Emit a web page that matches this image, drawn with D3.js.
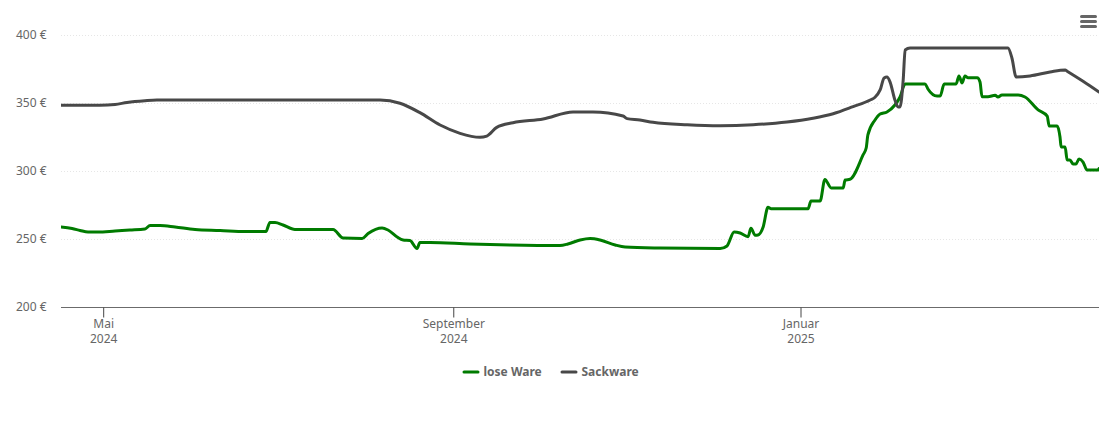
<!DOCTYPE html>
<html><head><meta charset="utf-8">
<script src="https://cdnjs.cloudflare.com/ajax/libs/d3/7.8.5/d3.min.js"></script>
<style>html,body{margin:0;padding:0;background:#fff}svg{display:block}text{font-family:"Noto Sans","Open Sans",sans-serif}</style>
</head><body><svg id="c" width="1110" height="422"></svg>
<script>
// Days since 2024-04-16 and price (EUR)
const loseDays=[0,3.9,6.7,9.5,13,19,24.2,29.5,31.3,34.8,40.1,47.1,55.9,64.7,72,73.4,75.2,78,82.2,95.6,99.1,105.8,107.9,112.8,114.9,118.1,120.2,122.6,125.1,126.1,129.7,143.7,157.8,175.3,178.1,182.4,185.9,189.4,194.7,198.2,210.5,231.6,234,236.5,238.6,241.4,242.4,243.9,244.9,246.7,248.4,249.5,262.5,263.5,266.7,268.4,270.6,274.8,275.5,277.2,281.8,282.9,283.5,286,287.8,290.2,293,294.8,296.6,303.6,304.6,307.8,308.9,310.3,314.5,315.5,316.6,317.6,318.7,321.9,322.9,323.6,325.7,328.2,329.2,330.6,336.3,338.7,343.3,346.5,347.2,350,351,351.4,352.8,353.5,354.5,355.6,356.6,357.7,359.1,360.5,364.4,364.7];
const loseVals=[258.8,257.7,256.3,255.1,255.1,255.9,256.6,257.4,259.9,259.9,258.8,257,256.3,255.5,255.5,262.1,262.1,260.3,257,257,250.7,250.4,254,258.1,256.6,251.5,249.3,248.9,243,247.4,247.4,246.3,245.6,245.2,246.3,249.3,250.4,249.3,245.6,244.1,243.4,243,244.9,255.1,254.4,251.7,257.9,252.7,252.9,258.8,273.3,272.3,272.3,277.9,277.9,293.8,287.5,287.5,293.4,293.9,311.8,316.9,326.5,337.5,341.9,343.4,348.5,354.4,364,364,360.3,355.1,355.1,364,364,369.9,364.7,369.9,368.6,368.6,365.4,354.6,354.6,355.7,354.4,355.9,355.9,354.4,344.9,340.4,333.1,333.1,325,317.6,317.6,308.1,308.1,305.1,305.1,308.8,306.6,300.7,300.7,301.8];
const sackDays=[0,13.7,19,23.2,29.5,33.7,112.1,119.1,126.1,133.2,140.2,147.2,149.6,153.1,158.8,169.4,179.9,186.9,197.5,198.9,203.4,208,220,231.6,243.2,255.1,264.2,271.3,278.3,284.3,286,287.8,289.2,290.2,291.3,293,294.1,294.8,295.9,296.6,298.3,301.8,332.7,334.1,335.6,340.5,347.5,352.8,353.5,359.1,364.7];
const sackVals=[348.3,348.3,348.9,350.4,351.7,352.2,352.2,349.8,342.9,333.8,327.7,324.8,325.7,332.1,335.5,338.2,343.4,343.4,340.4,338.5,337.5,335.8,334,333.3,334,336,338.8,342.1,347.3,352.2,354.2,359.6,368.4,369.1,365.4,352.2,347.1,347.1,366.9,389,390.4,390.4,390.4,383.1,369.1,369.9,372.8,374.3,373.4,366,358.1];
const yTicks=[200,250,300,350,400];
const xTickDates=["2024-05-01","2024-09-01","2025-01-01"];
const xTickLabels=[["Mai","2024"],["September","2024"],["Januar","2025"]];
const seriesNames=["lose Ware","Sackware"];
const seriesColors=["#007b00","#484848"];

const start=new Date(Date.UTC(2024,3,16));
const dayToDate=d=>new Date(start.getTime()+d*864e5);
const svg=d3.select("#c");
const x=d3.scaleUtc().domain([start,dayToDate(364.7)]).range([61,1099]);
const y=d3.scaleLinear().domain([200,400]).range([307,35]);

// grid
svg.append("g").selectAll("line").data(yTicks.slice(1)).join("line")
 .attr("x1",61).attr("x2",1099).attr("y1",d=>y(d)+.5).attr("y2",d=>y(d)+.5)
 .attr("stroke","#e6e6e6").attr("stroke-width",1).attr("stroke-dasharray","1,2");

// y axis labels
const ya=svg.append("g").attr("transform","translate(46.5,0)")
 .call(d3.axisLeft(y).tickValues(yTicks).tickSize(0).tickPadding(0).tickFormat(d=>d+" €"));
ya.select(".domain").remove();
ya.selectAll("text").attr("font-size",12).attr("fill","#666").attr("dy","0.32em").style("font-family",'"Noto Sans"');

// x axis
const xa=svg.append("g").attr("transform","translate(0,307.5)")
 .call(d3.axisBottom(x).offset(0).tickValues(xTickDates.map(s=>new Date(s+"T00:00:00Z"))).tickSize(10).tickSizeOuter(0).tickFormat(""));
xa.select(".domain").attr("stroke","#6b6b6b").attr("stroke-width",1.2).attr("d","M61,0H1099");
xa.selectAll(".tick line").attr("stroke","#444").attr("stroke-width",1);
xa.selectAll(".tick").each(function(d,i){
  const t=d3.select(this).append("text").attr("text-anchor","middle").attr("fill","#666").attr("font-size",12).style("font-family",'"Noto Sans"');
  t.selectAll("tspan").data(xTickLabels[i]).join("tspan").attr("x",0).attr("y",(l,j)=>20+j*15).text(l=>l);
});

// lines
const line=d3.line().x(p=>x(dayToDate(p[0]))).y(p=>y(p[1])).curve(d3.curveMonotoneX);
const sers=[d3.zip(loseDays,loseVals),d3.zip(sackDays,sackVals)];
svg.append("defs").append("clipPath").attr("id","cp").append("rect").attr("x",61).attr("y",0).attr("width",1038).attr("height",320);
svg.append("g").attr("clip-path","url(#cp)").selectAll("path").data(sers).join("path")
 .attr("d",line).attr("fill","none").attr("stroke",(d,i)=>seriesColors[i]).attr("stroke-width",3).attr("stroke-linejoin","round").attr("stroke-linecap","round");

// legend
const legX=[464,562],legT=[483.5,581.5];
const lg=svg.append("g").selectAll("g").data(seriesNames).join("g");
lg.append("line").attr("x1",(d,i)=>legX[i]).attr("x2",(d,i)=>legX[i]+14).attr("y1",372).attr("y2",372)
 .attr("stroke",(d,i)=>seriesColors[i]).attr("stroke-width",3).attr("stroke-linecap","round");
lg.append("text").attr("x",(d,i)=>legT[i]).attr("y",376).attr("font-size",12).attr("font-weight",700).attr("fill","#666").text(d=>d);

// menu icon
svg.append("g").selectAll("line").data(["a","b","c"]).join("line")
 .attr("x1",1081.5).attr("x2",1095.5).attr("y1",(d,i)=>16.5+i*5).attr("y2",(d,i)=>16.5+i*5)
 .attr("stroke","#666").attr("stroke-width",3).attr("stroke-linecap","round");
</script></body></html>
